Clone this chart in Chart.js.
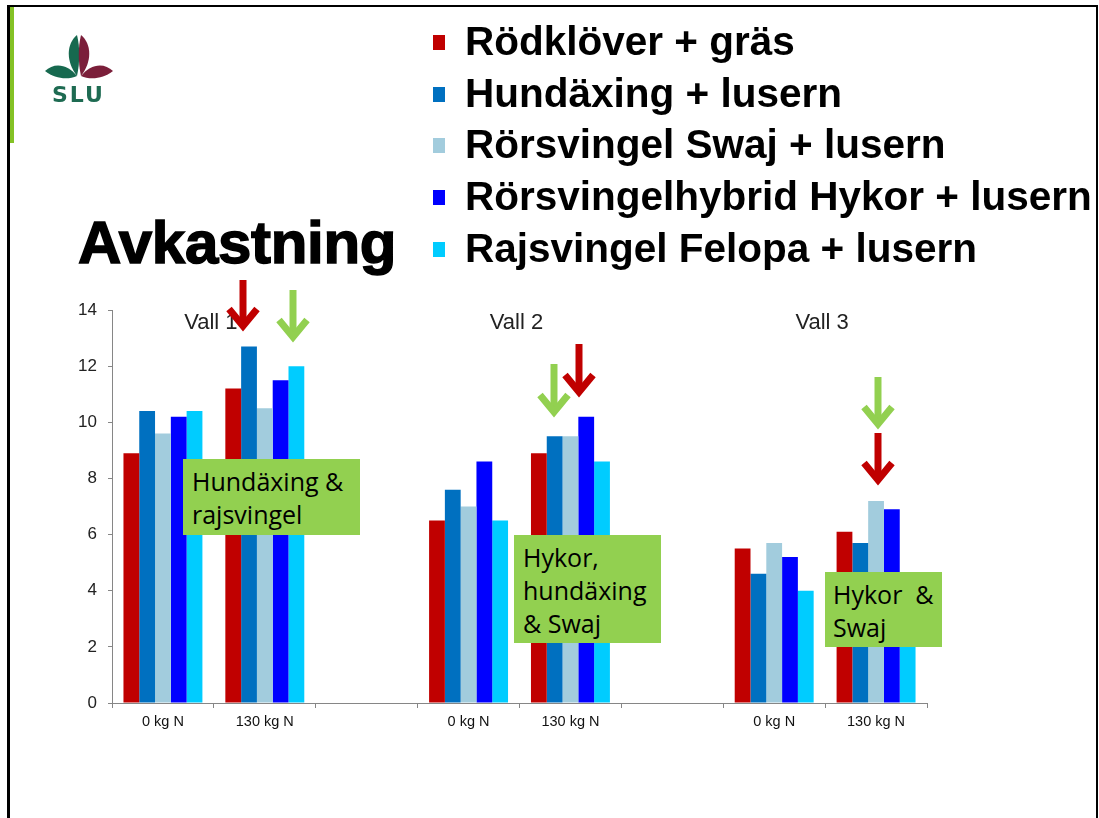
<!DOCTYPE html>
<html lang="sv">

<head>
  <meta charset="UTF-8">
  <title>Avkastning</title>
  <script src="https://cdn.jsdelivr.net/npm/chart.js"></script>
  <style>
    body { margin: 0; background: #fff; overflow: hidden; }
    #slide { position: relative; width: 1099px; height: 818px; font-family: "Liberation Sans", Arial, sans-serif; }
    #ram { position: absolute; left: 7px; top: 5px; width: 1086px; height: 830px; border-left: 3px solid #000; border-top: 2px solid #000; border-right: 2px solid #000; z-index: 3; }
    #gronlist { position: absolute; left: 10px; top: 7px; width: 4px; height: 136px; background: #84C225; z-index: 3; }
    #graf { position: absolute; left: 0; top: 0; z-index: 1; }
    #rubrik { position: absolute; left: 78px; top: 213px; font-size: 60px; line-height: 60px; font-weight: bold; color: #000; -webkit-text-stroke: 1.5px #000; letter-spacing: -0.3px; z-index: 2; }
    .rad { position: absolute; left: 433px; height: 40px; line-height: 40px; font-size: 40.5px; font-weight: bold; color: #000; white-space: nowrap; z-index: 2; }
    .rad span { position: absolute; left: 0; top: 14px; width: 12px; height: 15px; }
    .rad b { position: absolute; left: 32px; top: 0; }
    .ruta { position: absolute; background: #92D050; color: #000; font-family: "Open Sans", sans-serif; font-size: 25px; line-height: 33px; padding: 6px 0 0 9px; box-sizing: border-box; white-space: pre; z-index: 2; }
    #pilar, #logo { position: absolute; left: 0; top: 0; z-index: 2; }
  </style>
</head>

<body>
  <div id="slide">
    <canvas id="graf" width="1099" height="818"></canvas>
    <div id="ram"></div>
    <div id="gronlist"></div>

    <svg id="logo" width="130" height="120">
      <path d="M77,35 C66,44 66,62 77,76 C80,62 80,47 77,35 Z" fill="#17694F" />
      <path d="M81,35 C92,44 92,62 81,76 C78,62 78,47 81,35 Z" fill="#7B1F3A" />
      <path d="M77,76 C68,64 54,62 45,71 C55,79 68,80 77,76 Z" fill="#17694F" />
      <path d="M81,76 C90,64 104,62 113,71 C103,79 90,80 81,76 Z" fill="#7B1F3A" />
      <text x="52" y="102" font-family="DejaVu Sans" font-weight="bold" font-size="22" letter-spacing="2" fill="#1E6B52">SLU</text>
    </svg>

    <div id="rubrik">Avkastning</div>
    <div id="legend"></div>

    <div class="ruta" style="left:183px; top:459px; width:177px; height:76px;">Hundäxing &amp;
rajsvingel</div>
    <div class="ruta" style="left:514px; top:535px; width:147px; height:108px;">Hykor,
hundäxing
&amp; Swaj</div>
    <div class="ruta" style="left:825px; top:572px; width:117px; height:75px; padding-left:8px;">Hykor  &amp;
Swaj</div>

    <svg id="pilar" width="1099" height="818"></svg>
  </div>

  <script>
    // kategorier och serier (t ha-1), läst från bilden
    const kategorier = ["0 kg N", "130 kg N", "", "0 kg N", "130 kg N", "", "0 kg N", "130 kg N"]
    const vallar = ["Vall 1", "Vall 2", "Vall 3"]
    const vallIndex = [0, 3, 6]
    const yTicks = [0, 2, 4, 6, 8, 10, 12, 14]

    const serieNamn = [
      "Rödklöver + gräs",
      "Hundäxing + lusern",
      "Rörsvingel Swaj + lusern",
      "Rörsvingelhybrid Hykor + lusern",
      "Rajsvingel Felopa + lusern"
    ]
    const farger = ["#C00000", "#0070C0", "#A2CCDD", "#0000FF", "#00CCFF"]

    const rodklover = [8.9, 11.2, null, 6.5, 8.9, null, 5.5, 6.1]
    const hundaxing = [10.4, 12.7, null, 7.6, 9.5, null, 4.6, 5.7]
    const swaj = [9.6, 10.5, null, 7.0, 9.5, null, 5.7, 7.2]
    const hykor = [10.2, 11.5, null, 8.6, 10.2, null, 5.2, 6.9]
    const felopa = [10.4, 12.0, null, 6.5, 8.6, null, 4.0, 4.4]

    const serier = [rodklover, hundaxing, swaj, hykor, felopa]

    // legend
    const legend = document.getElementById('legend')
    serieNamn.forEach(function (namn, i) {
      let rad = document.createElement('div')
      rad.className = 'rad'
      rad.style.top = (21 + i * 51.7) + 'px'
      rad.innerHTML = '<span style="background:' + farger[i] + '"></span><b>' + namn + '</b>'
      legend.appendChild(rad)
    })

    // pilar (dekoration)
    const pilar = [
      { x: 243, top: 280, tip: 331, color: "#C00000" },
      { x: 293, top: 290, tip: 342, color: "#92D050" },
      { x: 554, top: 364, tip: 417, color: "#92D050" },
      { x: 579, top: 344, tip: 397, color: "#C00000" },
      { x: 878, top: 377, tip: 429, color: "#92D050" },
      { x: 878, top: 433, tip: 485, color: "#C00000" }
    ]
    let svg = ''
    pilar.forEach(function (p) {
      svg += '<line x1="' + p.x + '" y1="' + p.top + '" x2="' + p.x + '" y2="' + (p.tip - 5) + '" stroke="' + p.color + '" stroke-width="7"/>'
      svg += '<polyline points="' + (p.x - 14) + ',' + (p.tip - 22) + ' ' + p.x + ',' + (p.tip - 5) + ' ' + (p.x + 14) + ',' + (p.tip - 22) +
        '" fill="none" stroke="' + p.color + '" stroke-width="7" stroke-linejoin="miter"/>'
    })
    document.getElementById('pilar').innerHTML = svg

    const vallText = {
      id: 'vallText',
      afterDatasetsDraw(chart) {
        const c = chart.ctx
        const xs = chart.scales.x
        c.save()
        c.font = '22px "Liberation Sans", Arial'
        c.fillStyle = '#222'
        c.textAlign = 'center'
        c.textBaseline = 'middle'
        vallar.forEach(function (v, i) {
          let k = vallIndex[i]
          let x = (xs.getPixelForValue(k) + xs.getPixelForValue(k + 1)) / 2
          c.fillText(v, x - 3, chart.chartArea.top + 13)
        })
        c.restore()
      }
    }

    const ctx = document.getElementById('graf').getContext('2d')
    new Chart(ctx, {
      type: 'bar',
      data: {
        labels: kategorier,
        datasets: serier.map(function (s, i) {
          return {
            label: serieNamn[i],
            data: s,
            backgroundColor: farger[i],
            borderWidth: 0,
            categoryPercentage: 0.775,
            barPercentage: 1
          }
        })
      },
      options: {
        responsive: false,
        animation: false,
        layout: { padding: { top: 310, right: 172, bottom: 75, left: 0 } },
        plugins: {
          legend: { display: false },
          tooltip: { enabled: false }
        },
        scales: {
          x: {
            grid: { display: true, drawOnChartArea: false, offset: true, tickLength: 5, color: '#868686' },
            border: { color: '#868686' },
            ticks: {
              color: '#111',
              font: { family: 'Liberation Sans', size: 14.5 },
              padding: 5,
              maxRotation: 0,
              autoSkip: false
            },
            afterFit: function (s) { s.height = 40 }
          },
          y: {
            min: 0,
            max: 14,
            afterBuildTicks: function (s) { s.ticks = yTicks.map(function (v) { return { value: v } }) },
            grid: { display: true, drawOnChartArea: false, tickLength: 4, color: '#868686' },
            border: { color: '#868686' },
            ticks: {
              color: '#222',
              font: { family: 'Liberation Sans', size: 17 },
              padding: 11
            },
            afterFit: function (s) { s.width = 112 }
          }
        }
      },
      plugins: [vallText]
    })
  </script>
</body>

</html>
